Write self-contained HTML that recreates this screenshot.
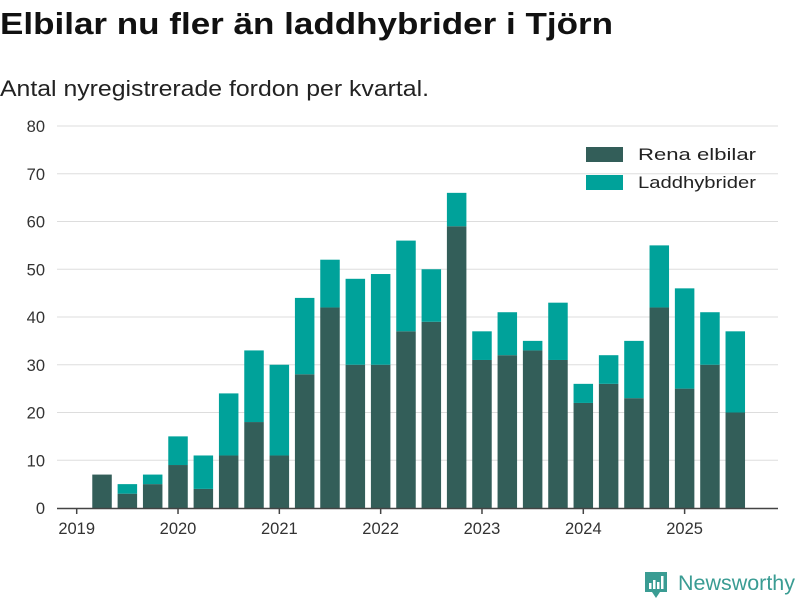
<!DOCTYPE html>
<html><head><meta charset="utf-8"><style>
body{margin:0;background:#fff;font-family:"Liberation Sans","DejaVu Sans",sans-serif;}
#wrap{position:relative;width:800px;height:600px;overflow:hidden}
</style></head><body>
<div id="wrap">
<svg id="chart" width="800" height="600">
<text x="0" y="34" font-size="31" font-weight="bold" fill="#111" textLength="613" lengthAdjust="spacingAndGlyphs">Elbilar nu fler än laddhybrider i Tjörn</text>
<text x="0" y="96" font-size="22" fill="#222" textLength="429" lengthAdjust="spacingAndGlyphs">Antal nyregistrerade fordon per kvartal.</text>
<g id="grid"></g><g id="bars"></g><g id="axis"></g>
<g>
<rect x="586" y="147" width="37" height="15" fill="#335e59"/>
<text x="638" y="160" font-size="17" fill="#222" textLength="118" lengthAdjust="spacingAndGlyphs">Rena elbilar</text>
<rect x="586" y="175" width="37" height="15" fill="#00a29a"/>
<text x="638" y="188" font-size="17" fill="#222" textLength="118" lengthAdjust="spacingAndGlyphs">Laddhybrider</text>
</g>
<g>
<path d="M645 572 h22 v20 h-7 l-4 6 l-4 -6 h-7 z" fill="#3a9c93"/>
<rect x="649" y="583" width="2.5" height="6" fill="#fff"/><rect x="653" y="580" width="2.5" height="9" fill="#fff"/><rect x="657" y="582" width="2.5" height="7" fill="#fff"/><rect x="661" y="576" width="2.5" height="13" fill="#fff"/>
<text x="678" y="590" font-size="21" fill="#3a9c93" textLength="117" lengthAdjust="spacingAndGlyphs">Newsworthy</text>
</g>
</svg>
<script>
const quarters = ["2019Q2","2019Q3","2019Q4","2020Q1","2020Q2","2020Q3","2020Q4","2021Q1","2021Q2","2021Q3","2021Q4","2022Q1","2022Q2","2022Q3","2022Q4","2023Q1","2023Q2","2023Q3","2023Q4","2024Q1","2024Q2","2024Q3","2024Q4","2025Q1","2025Q2","2025Q3"];
const elbilar = [7,3,5,9,4,11,18,11,28,42,30,30,37,39,59,31,32,33,31,22,26,23,42,25,30,20];
const laddhybrider = [0,2,2,6,7,13,15,19,16,10,18,19,19,11,7,6,9,2,12,4,6,12,13,21,11,17];
const yTicks = [0,10,20,30,40,50,60,70,80];
const years = [2019,2020,2021,2022,2023,2024,2025];
const NS="http://www.w3.org/2000/svg";
const y0=508, yTop=126, yMax=80;
function y(v){return y0-(y0-yTop)*v/yMax;}
function qIndex(q){return (parseInt(q.slice(0,4))-2019)*4+parseInt(q.slice(5))-1;}
function x(i){return 76.7+25.33*i;}
function mk(tag,attrs,parent){const e=document.createElementNS(NS,tag);for(const k in attrs)e.setAttribute(k,attrs[k]);parent.appendChild(e);return e;}
const grid=document.getElementById('grid'),bars=document.getElementById('bars'),axis=document.getElementById('axis');
yTicks.forEach(t=>{
  if(t>0){const l=mk('line',{x1:57,x2:778,y1:y(t),y2:y(t),stroke:'#ddd','stroke-width':1},grid);
  
  }
  const tx=mk('text',{x:45,y:y(t)+6,'text-anchor':'end','font-size':16.5,fill:'#333'},axis);
  tx.textContent=t;
  
  
});
const bw=19.5;
quarters.forEach((q,k)=>{
  const cx=x(qIndex(q));
  const a=mk('rect',{x:cx-bw/2,y:y(elbilar[k]),width:bw,height:y0-y(elbilar[k]),fill:'#335e59'},bars);
  
  
  const tot=elbilar[k]+laddhybrider[k];
  const b=mk('rect',{x:cx-bw/2,y:y(tot),width:bw,height:y(elbilar[k])-y(tot),fill:'#00a29a'},bars);
  
  
});
const ax=mk('line',{x1:57,x2:778,y1:y0+0.5,y2:y0+0.5,stroke:'#444','stroke-width':1.5},axis);


years.forEach(yr=>{
  const cx=x((yr-2019)*4);
  mk('line',{x1:cx,x2:cx,y1:y0,y2:y0+6,stroke:'#444','stroke-width':1.5},axis);
  const t=mk('text',{x:cx,y:y0+26,'text-anchor':'middle','font-size':16.5,fill:'#333'},axis);
  t.textContent=yr;
  
  
});
</script>
</div>
</body></html>
